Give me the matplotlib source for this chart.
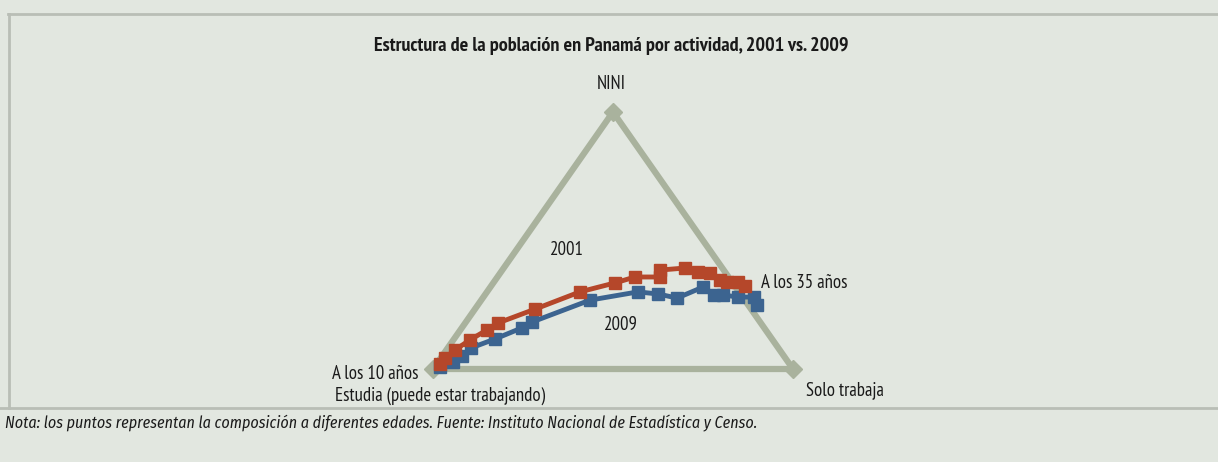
import numpy as np
import matplotlib.pyplot as plt
from matplotlib.lines import Line2D

# composición por edad (% NINI, % solo trabaja), de 10 a 35 años
nini_2001 = [1.9, 4.3, 7.4, 11.3, 15.2, 17.9, 23.3, 30.0, 33.5, 35.8, 35.8, 38.5,
             39.3, 37.7, 37.4, 34.6, 33.9, 33.9, 32.3]
trabaja_2001 = [1.0, 1.2, 2.4, 4.6, 7.4, 9.1, 16.7, 25.8, 33.8, 38.2, 45.2, 43.8,
                50.4, 54.8, 58.2, 62.4, 64.7, 67.8, 70.6]

nini_2009 = [0.8, 2.7, 5.1, 8.2, 11.7, 16.0, 18.3, 26.8, 30.0, 29.2, 27.6, 31.9,
             28.8, 28.8, 28.0, 28.0, 24.9]
trabaja_2009 = [1.5, 4.2, 5.5, 6.5, 11.4, 16.7, 18.4, 30.2, 41.9, 47.9, 54.0, 59.1,
                63.7, 66.2, 70.7, 75.2, 77.6]

vertices = ["Estudia", "Solo trabaja", "NINI"]

bg = "#E2E7E0"
tri_color = "#A9B29D"
red = "#B5472A"
blue = "#3C6490"
txt = "#1a1a1a"
font = ["PT Sans Narrow", "Roboto Condensed", "DejaVu Sans"]
font_it = ["Fira Sans Condensed", "Roboto Condensed", "DejaVu Sans"]
fs = 13.5

W, H = 1218, 462
fig = plt.figure(figsize=(W / 100, H / 100), dpi=100, facecolor=bg)

def fx(px):
    return px / W

def fy(py):
    return 1 - py / H

# ejes del triángulo: base de 433 a 793 px, altura de 369 a 112 px
ax = fig.add_axes([fx(433), fy(369), 360 / W, 257 / H])
ax.set_xlim(0, 1)
ax.set_ylim(0, 1)
ax.axis("off")
ax.patch.set_alpha(0)


def to_xy(nini, trabaja):
    n = np.array(nini) / 100
    t = np.array(trabaja) / 100
    return t + n / 2, n


# triángulo (vértices: Estudia, Solo trabaja, NINI)
tx, ty = to_xy([0, 0, 100, 0], [0, 100, 0, 0])
ax.plot(tx, ty, color=tri_color, lw=4.5, clip_on=False, zorder=1)
ax.plot(tx[:3], ty[:3], "D", color=tri_color, ms=9, clip_on=False, zorder=1)

x1, y1 = to_xy(nini_2001, trabaja_2001)
ax.plot(x1, y1, "-s", color=red, lw=3.5, ms=8, clip_on=False, zorder=3)
x2, y2 = to_xy(nini_2009, trabaja_2009)
ax.plot(x2, y2, "-s", color=blue, lw=3.5, ms=8, clip_on=False, zorder=2)

# marco
fig.add_artist(Line2D([fx(8), 1], [fy(14), fy(14)], color="#B9BEB6", lw=2))
fig.add_artist(Line2D([fx(9), fx(9)], [fy(14), fy(408)], color="#B9BEB6", lw=2))
fig.add_artist(Line2D([0, 1], [fy(408), fy(408)], color="#B9BEB6", lw=2))

fig.text(fx(611), fy(46), "Estructura de la población en Panamá por actividad, 2001 vs. 2009",
         ha="center", va="center", fontsize=14.5, fontweight="bold", family=font,
         color=txt)
fig.text(fx(611), fy(84), "NINI", ha="center", va="center", fontsize=fs,
         family=font, color=txt)
fig.text(fx(567), fy(250), "2001", ha="center", va="center", fontsize=fs,
         family=font, color=txt)
fig.text(fx(621), fy(325), "2009", ha="center", va="center", fontsize=fs,
         family=font, color=txt)
fig.text(fx(761), fy(283), "A los 35 años", ha="left", va="center", fontsize=fs,
         family=font, color=txt)
fig.text(fx(418), fy(374), "A los 10 años", ha="right", va="center", fontsize=fs,
         family=font, color=txt)
fig.text(fx(335), fy(396), vertices[0] + " (puede estar trabajando)", ha="left",
         va="center", fontsize=fs, family=font, color=txt)
fig.text(fx(806), fy(390), vertices[1], ha="left", va="center", fontsize=fs,
         family=font, color=txt)
fig.text(fx(5), fy(423),
         "Nota: los puntos representan la composición a diferentes edades. "
         "Fuente: Instituto Nacional de Estadística y Censo.",
         ha="left", va="center", fontsize=11.5, style="italic", family=font_it,
         color=txt)

fig.savefig("out.png", dpi=100, facecolor=bg)
